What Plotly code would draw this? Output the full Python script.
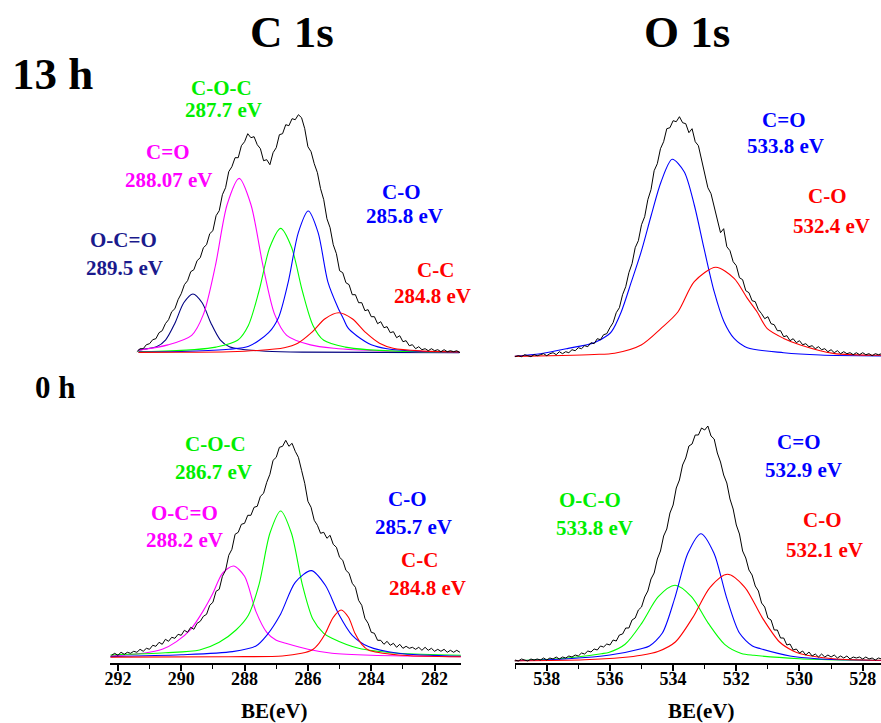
import numpy as np
import plotly.graph_objects as go

W, H = 881, 723
FONT = "Liberation Serif"

# ---------------- DATA ----------------
# 13 h, C 1s (energy grid 291.4 -> 281.2, step 0.1 eV)
tl_black_start, tl_black_stop = 291.4, 281.2
tl_black = [1,4,4,8,9,13,14,20,22,29,
            33,41,44,53,59,68,72,81,83,92,
            95,105,108,119,122,137,142,158,165,181,
            186,195,195,207,211,219,215,216,208,204,
            192,193,188,200,205,218,219,228,227,234,
            233,238,235,224,206,201,189,180,164,153,
            134,125,108,99,82,80,70,68,58,58,
            50,50,42,43,36,36,29,31,25,26,
            20,21,15,17,11,12,7,8,4,6,
            3,4,2,4,2,3,1,3,1,2,
            1,2,0]
tl_navy_x = [291.35, 291.07, 290.78, 290.49, 290.20, 289.92, 289.63, 289.34, 289.06, 288.77, 288.48, 288.05, 287.33, 286.18, 281.22]
tl_navy_y = [2.6, 4.1, 5.9, 12.9, 29.4, 49.9, 58.7, 49.9, 29.4, 12.9, 5.9, 3.2, 1.5, 0.6, 0.1]
tl_mag_x = [291.35, 290.42, 289.67, 289.30, 288.92, 288.55, 288.17, 287.80, 287.42, 287.05, 286.67, 285.92, 285.17, 283.67, 281.22]
tl_mag_y = [2.5, 7.8, 17.4, 38.3, 87.2, 148.2, 174.3, 148.2, 87.2, 38.3, 17.4, 7.8, 4.4, 1.7, 0.6]
tl_green_x = [291.35, 290.94, 289.58, 288.90, 288.22, 287.88, 287.54, 287.20, 286.86, 286.52, 286.18, 285.84, 285.50, 284.82, 284.14, 282.78, 281.22]
tl_green_y = [1.1, 1.2, 3.1, 5.6, 12.4, 27.3, 62.2, 105.7, 124.3, 105.7, 62.2, 27.3, 12.4, 5.6, 3.1, 1.2, 0.6]
tl_blue_x = [291.35, 289.74, 288.49, 287.87, 287.24, 286.93, 286.62, 286.30, 285.99, 285.68, 285.37, 285.05, 284.88, 284.74, 284.46, 284.00, 283.50, 282.50, 281.22]
tl_blue_y = [0.6, 1.4, 3.5, 6.4, 20, 35, 70.9, 120.4, 141.7, 120.4, 70.9, 45, 34, 25, 17, 8, 4, 1.5, 0.6]
tl_red_x = [291.35, 290.19, 288.47, 287.61, 286.75, 286.32, 285.89, 285.46, 285.03, 284.60, 284.17, 283.74, 283.31, 282.45, 281.22]
tl_red_y = [0.3, 0.4, 1.0, 2.2, 5.0, 9.5, 20, 34, 40, 34, 20, 9.5, 4.5, 1.8, 0.8]

# 13 h, O 1s (energy grid 539.0 -> 527.4, step 0.1 eV)
tr_black_start, tr_black_stop = 539.0, 527.4
tr_black = [0,1,0,2,1,0,2,1,2,3,
            1,3,4,2,5,3,5,4,7,6,
            9,8,11,10,14,13,18,17,22,23,
            29,34,44,49,62,70,84,93,109,116,
            132,140,157,167,186,193,208,215,228,229,
            236,235,240,234,233,224,228,215,211,197,
            182,169,163,150,140,124,128,110,106,95,
            91,79,77,66,64,56,55,47,43,38,
            40,33,32,26,26,20,21,16,18,14,
            16,12,13,10,11,8,10,7,8,5,
            7,4,6,3,5,3,4,2,4,2,
            4,2,3,1,3,2,3]
tr_blue_x = [539.02, 538.2, 537.32, 536.5, 536.06, 535.95, 535.64, 535.32, 535.01, 534.69, 534.38, 534.03, 533.65, 533.33, 533.02, 532.70, 532.39, 532.07, 531.65, 530.5, 529.34, 527.42]
tr_blue_y = [0.5, 3, 8.3, 14, 21.7, 25, 45, 75, 105, 141.7, 175, 197.4, 185, 151.7, 108, 65, 35, 18.3, 9, 4, 1.7, 0.8]
tr_red_x = [539.02, 537.5, 536.5, 535.85, 535.01, 534.38, 533.85, 533.33, 532.65, 532.07, 531.65, 531.34, 531.02, 530.50, 529.97, 528.93, 527.42]
tr_red_y = [0.3, 1.2, 2.2, 3.5, 11.7, 28.3, 44.7, 75, 89.4, 78.3, 58.3, 44.7, 28, 18.3, 11.7, 3.3, 1.5]

# 0 h, C 1s (energy grid 292.2 -> 281.2, step 0.1 eV)
bl_black_start, bl_black_stop = 292.2, 281.2
bl_black = [2,4,2,5,3,5,4,6,5,8,
            6,9,8,12,11,15,13,18,16,20,
            19,23,22,27,25,30,28,34,36,41,
            43,52,55,66,68,81,87,102,108,123,
            125,133,134,142,142,150,151,161,164,175,
            183,197,200,210,211,217,211,214,206,200,
            187,174,156,150,137,132,124,125,119,122,
            113,110,100,97,87,84,74,70,57,52,
            39,34,25,24,17,17,13,16,12,14,
            10,13,9,11,9,10,8,10,7,10,
            7,9,6,8,6,8,5,7,5,7,
            5]
bl_mag_x = [292.24, 291.2, 290.6, 290.15, 289.7, 289.32, 289.0, 288.7, 288.35, 288.0, 287.64, 287.3, 287.0, 286.7, 286.0, 285.24, 284.0, 281.17]
bl_mag_y = [1.3, 4, 8, 15.7, 28, 45.7, 64, 84, 91.3, 81, 45.7, 25, 17, 14, 8, 4, 2, 0.7]
bl_green_x = [292.24, 290.5, 289.42, 288.8, 288.27, 287.88, 287.54, 287.2, 286.86, 286.52, 286.18, 285.84, 285.5, 285.24, 284.4, 283.15, 281.17]
bl_green_y = [2.3, 4.5, 7.3, 15, 27.3, 42, 73.2, 124, 146.3, 124, 73.2, 38, 24, 19, 9, 4, 2]
bl_blue_x = [292.24, 290.0, 288.38, 287.64, 287.3, 286.86, 286.4, 285.89, 285.45, 285.03, 284.6, 284.09, 283.15, 281.17]
bl_blue_y = [0.7, 2.5, 5.7, 11.3, 22, 43.4, 75, 86.7, 72, 43.4, 22, 10.7, 4, 1]
bl_red_x = [292.24, 288.5, 286.81, 286.2, 285.87, 285.65, 285.45, 285.2, 284.95, 284.72, 284.51, 284.3, 284.09, 283.15, 281.17]
bl_red_y = [0.2, 0.6, 1.3, 4, 7.3, 14, 23.7, 40, 47.3, 40, 23.7, 13, 7.3, 2.3, 0.5]

# 0 h, O 1s (energy grid 539.0 -> 527.4, step 0.1 eV)
br_black_start, br_black_stop = 539.0, 527.4
br_black = [1,0,2,1,0,2,1,2,1,3,
            1,3,2,4,2,4,3,5,4,6,
            5,8,7,10,9,12,11,15,14,17,
            16,21,20,26,27,33,33,41,43,51,
            54,64,70,82,88,102,110,125,132,148,
            156,173,181,196,203,215,217,226,226,233,
            231,235,225,222,208,199,186,178,162,152,
            136,127,110,103,91,86,75,70,58,54,
            43,41,31,31,23,23,16,17,11,12,
            8,10,6,9,5,7,4,7,4,6,
            4,6,3,5,3,5,2,4,3,4,
            2,4,2,3,1,3,2]
br_green_x = [539.02, 537.5, 536.27, 536.04, 535.52, 534.99, 534.47, 533.94, 533.42, 532.89, 532.37, 531.84, 531.44, 530.0, 528.5, 527.42]
br_green_y = [0.3, 2.5, 7.3, 8.5, 16.7, 37.9, 64.3, 75.7, 64.3, 37.9, 16.7, 7.6, 5.7, 2.3, 1, 0.5]
br_blue_x = [539.02, 537.32, 536.0, 535.01, 534.75, 534.34, 533.94, 533.53, 533.12, 532.71, 532.31, 531.90, 531.49, 531.23, 530.3, 529.45, 527.42]
br_blue_y = [0.3, 2.3, 6, 12.3, 15, 28, 63.7, 108, 127.3, 108, 63.7, 28, 15, 12.3, 5, 2.3, 0.5]
br_red_x = [539.02, 536.8, 535.6, 535.01, 534.48, 533.93, 533.38, 532.83, 532.28, 531.73, 531.18, 530.63, 530.2, 529.97, 528.93, 527.42]
br_red_y = [0.3, 1.3, 3.5, 5.7, 9.5, 19, 43.4, 73.7, 86.7, 73.7, 43.4, 19, 10, 7.3, 2.3, 0.8]

# tick labels
left_ticks = [292, 290, 288, 286, 284, 282]
right_ticks = [538, 536, 534, 532, 530, 528]

# labels: (line1, line2, colour)
tl_labels = [("C-O-C", "287.7 eV", "#00ee00"), ("C=O", "288.07 eV", "#ff00ff"),
             ("O-C=O", "289.5 eV", "#1a1a8c"), ("C-O", "285.8 eV", "#0000ff"),
             ("C-C", "284.8 eV", "#ff0000")]
tr_labels = [("C=O", "533.8 eV", "#0000ff"), ("C-O", "532.4 eV", "#ff0000")]
bl_labels = [("C-O-C", "286.7 eV", "#00ee00"), ("O-C=O", "288.2 eV", "#ff00ff"),
             ("C-O", "285.7 eV", "#0000ff"), ("C-C", "284.8 eV", "#ff0000")]
br_labels = [("C=O", "532.9 eV", "#0000ff"), ("O-C-O", "533.8 eV", "#00ee00"),
             ("C-O", "532.1 eV", "#ff0000")]

C_NAVY, C_MAG, C_GREEN, C_BLUE, C_RED = "#000080", "#ff00ff", "#00ff00", "#0000ff", "#ff0000"

def grid(a, b, n):
    return np.linspace(a, b, n)

fig = go.Figure()

def add(x, y, color, ax, spline=True, width=1.1):
    fig.add_trace(go.Scatter(
        x=x, y=y, mode="lines",
        line=dict(color=color, width=width, shape="spline" if spline else "linear",
                  smoothing=0.8 if spline else None),
        xaxis="x" + ax, yaxis="y" + ax, showlegend=False, hoverinfo="skip"))

# bottom-left: axis 1 ; bottom-right: axis 2 ; top-left: axis 3 ; top-right: axis 4
for (xx, yy, c) in [(tl_navy_x, tl_navy_y, C_NAVY), (tl_mag_x, tl_mag_y, C_MAG),
                    (tl_green_x, tl_green_y, C_GREEN), (tl_blue_x, tl_blue_y, C_BLUE),
                    (tl_red_x, tl_red_y, C_RED)]:
    add(xx, yy, c, "3")
add(grid(tl_black_start, tl_black_stop, len(tl_black)), tl_black, "black", "3", spline=False, width=1.0)

for (xx, yy, c) in [(tr_blue_x, tr_blue_y, C_BLUE), (tr_red_x, tr_red_y, C_RED)]:
    add(xx, yy, c, "4")
add(grid(tr_black_start, tr_black_stop, len(tr_black)), tr_black, "black", "4", spline=False, width=1.0)

for (xx, yy, c) in [(bl_mag_x, bl_mag_y, C_MAG), (bl_green_x, bl_green_y, C_GREEN),
                    (bl_blue_x, bl_blue_y, C_BLUE), (bl_red_x, bl_red_y, C_RED)]:
    add(xx, yy, c, "")
add(grid(bl_black_start, bl_black_stop, len(bl_black)), bl_black, "black", "", spline=False, width=1.0)

for (xx, yy, c) in [(br_green_x, br_green_y, C_GREEN), (br_blue_x, br_blue_y, C_BLUE),
                    (br_red_x, br_red_y, C_RED)]:
    add(xx, yy, c, "2")
add(grid(br_black_start, br_black_stop, len(br_black)), br_black, "black", "2", spline=False, width=1.0)

def dom_x(p0, p1):
    return [p0 / W, p1 / W]

def dom_y(top_px, bot_px):
    return [(H - bot_px) / H, (H - top_px) / H]

LEFT_RANGE = [292.24, 281.17]
RIGHT_RANGE = [539.02, 527.42]

tickfont = dict(family=FONT, size=18, color="black")

def xaxis_cfg(ticks, rng, dom, anchor):
    return dict(domain=dom, range=rng, anchor=anchor,
                showgrid=False, zeroline=False, showline=True, linecolor="black", linewidth=1.5,
                ticks="outside", ticklen=6, tickwidth=1.5, tickcolor="black",
                tickmode="array", tickvals=ticks, ticktext=["<b>%d</b>" % t for t in ticks],
                tickfont=tickfont, ticklabelstandoff=-7,
                minor=dict(ticks="outside", ticklen=4, tickwidth=1.2, tickcolor="black",
                           dtick=1, tick0=0, showgrid=False))

hidden = dict(visible=False, showgrid=False, zeroline=False)

fig.update_layout(
    width=W, height=H, margin=dict(l=0, r=0, t=0, b=0),
    paper_bgcolor="white", plot_bgcolor="rgba(0,0,0,0)",
    xaxis=xaxis_cfg(left_ticks, LEFT_RANGE, dom_x(105, 458), "y"),
    yaxis=dict(domain=dom_y(420, 663), range=[-5.7, 657.3 - 420], anchor="x", **hidden),
    xaxis2=xaxis_cfg(right_ticks, RIGHT_RANGE, dom_x(512, 881), "y2"),
    yaxis2=dict(domain=dom_y(415, 663), range=[-2, 661 - 415], anchor="x2", **hidden),
    xaxis3=dict(domain=dom_x(105, 458), range=LEFT_RANGE, anchor="y3", **hidden),
    yaxis3=dict(domain=dom_y(100, 358), range=[-5.3, 352.7 - 100], anchor="x3", **hidden),
    xaxis4=dict(domain=dom_x(512, 881), range=RIGHT_RANGE, anchor="y4", **hidden),
    yaxis4=dict(domain=dom_y(105, 360), range=[-3.3, 356.7 - 105], anchor="x4", **hidden),
)

def ann(text, x, y, color="black", size=20):
    fig.add_annotation(text="<b>%s</b>" % text, x=x / W, y=1 - y / H, xref="paper", yref="paper",
                       showarrow=False, xanchor="center", yanchor="middle",
                       font=dict(family=FONT, size=size, color=color))

ann("C 1s", 288, 32, size=45)
ann("O 1s", 686, 32, size=45)
ann("13 h", 47, 74, size=45)
ann("0 h", 50, 387, size=31)
ann("BE(eV)", 270, 711, size=21)
ann("BE(eV)", 700, 711, size=21)

tl_pos = [((217, 88), (219, 110)), ((163, 152), (164, 180)), ((118, 240), (119, 268)),
          ((398, 192), (401, 216)), ((432, 270), (429, 296))]
tr_pos = [((783, 120), (785, 146)), ((827, 196), (831, 226))]
bl_pos = [((211, 444), (209, 472)), ((180, 513), (180, 540)), ((404, 499), (410, 527)),
          ((416, 560), (424, 588))]
br_pos = [((798, 442), (803, 470)), ((588, 500), (593, 528)), ((822, 520), (824, 550))]

for labels, pos in [(tl_labels, tl_pos), (tr_labels, tr_pos), (bl_labels, bl_pos), (br_labels, br_pos)]:
    for (l1, l2, col), (p1, p2) in zip(labels, pos):
        ann(l1, p1[0], p1[1], col, 21)
        ann(l2, p2[0], p2[1], col, 21)

fig.write_html("out.html")
